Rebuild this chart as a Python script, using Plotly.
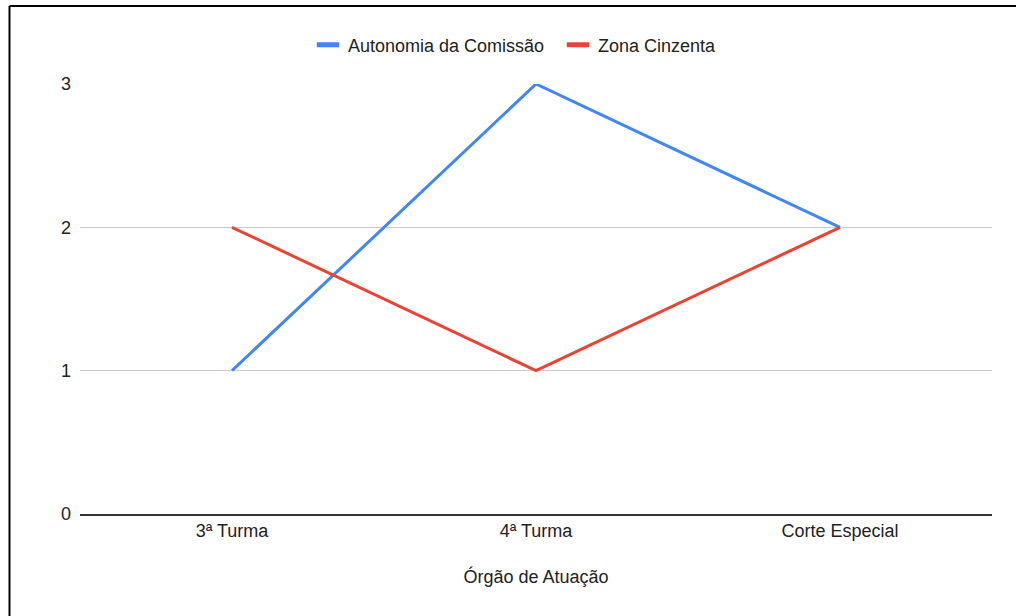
import plotly.graph_objects as go

categories = ["3ª Turma", "4ª Turma", "Corte Especial"]
autonomia = [1, 3, 2]
zona_cinzenta = [2, 1, 2]
series_names = ["Autonomia da Comissão", "Zona Cinzenta"]
series_colors = ["#4285F4", "#EA4335"]
y_ticks = [0, 1, 2, 3]
x_title = "Órgão de Atuação"

W, H = 1016, 616
L, R, T, B = 80, 24, 84, 102
pw, ph = W - L - R, H - T - B

def px_x(x):
    return (x - L) / pw

def px_y(y):
    return (H - B - y) / ph

FONT = "Liberation Sans, Arial, sans-serif"
TXT = "#222222"

fig = go.Figure()
for name, vals, col in zip(series_names, [autonomia, zona_cinzenta], series_colors):
    fig.add_trace(go.Scatter(x=categories, y=vals, mode="lines", name=name,
                             line=dict(color=col, width=3), showlegend=False))
# legend entries (short thick bars like the reference)
for name, col in zip(series_names, series_colors):
    fig.add_trace(go.Scatter(x=[None], y=[None], mode="markers", name=name,
                             marker=dict(symbol="line-ew", size=18, color=col,
                                         line=dict(color=col, width=6)),
                             showlegend=True))

fig.update_layout(
    width=W, height=H,
    margin=dict(l=L, r=R, t=T, b=B, pad=0),
    paper_bgcolor="white", plot_bgcolor="white",
    font=dict(family=FONT, size=18, color=TXT),
    showlegend=True,
    legend=dict(orientation="h", x=px_x(308), xanchor="left", y=px_y(45), yanchor="middle",
                font=dict(size=18, color=TXT), itemwidth=30, entrywidth=205,
                bgcolor="rgba(0,0,0,0)"),
    xaxis=dict(type="category", range=[-0.5, 2.5], showgrid=False, showline=True,
               linecolor="#333333", linewidth=1.5, ticks="", tickfont=dict(size=18, color=TXT),
               title=dict(text=x_title, font=dict(size=18, color=TXT), standoff=30),
               fixedrange=True),
    yaxis=dict(range=[0, 3], tickvals=y_ticks, showgrid=True, gridcolor="#cccccc", gridwidth=1,
               zeroline=False, showline=False, ticks="", ticklabelstandoff=8,
               tickfont=dict(size=18, color=TXT), fixedrange=True),
    shapes=[
        dict(type="line", xref="paper", yref="paper", x0=px_x(9.5), x1=px_x(1020),
             y0=px_y(6), y1=px_y(6), line=dict(color="#000000", width=2)),
        dict(type="line", xref="paper", yref="paper", x0=px_x(9.5), x1=px_x(9.5),
             y0=px_y(6), y1=px_y(620), line=dict(color="#000000", width=2)),
    ],
)

fig.write_html("out.html", config={"displayModeBar": False},
               post_script="document.body.style.margin='0';document.body.style.overflow='hidden';")
